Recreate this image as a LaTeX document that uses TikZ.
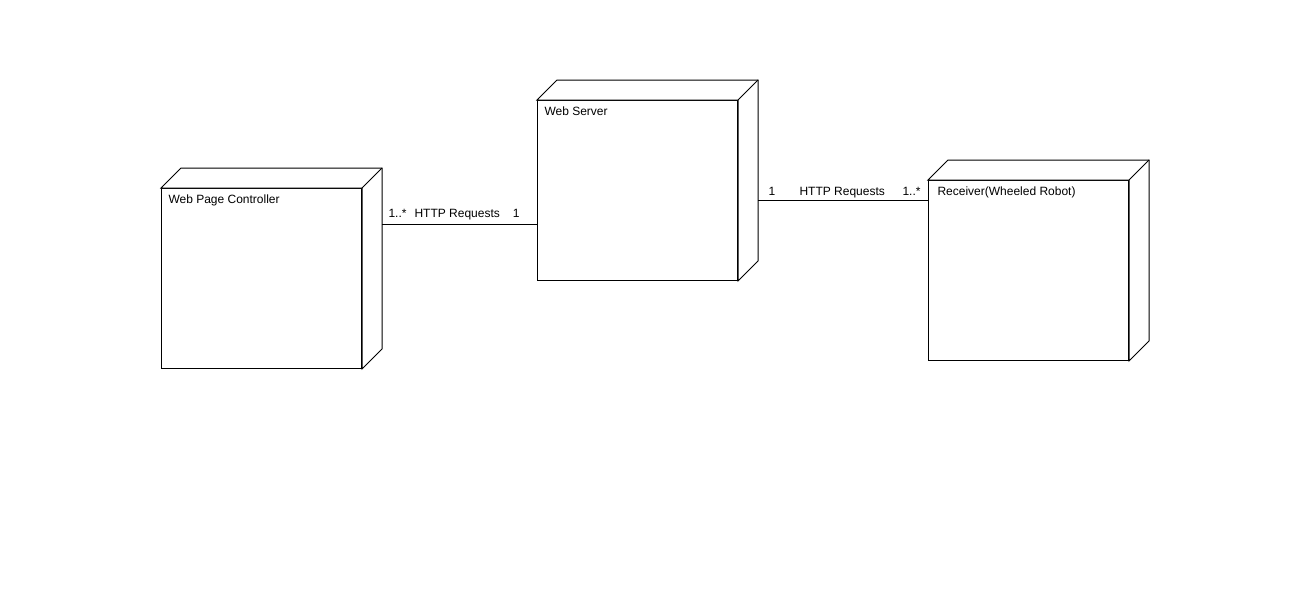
\documentclass[tikz,border=0pt]{standalone}
\usepackage{fontspec}
\setmainfont{Liberation Sans}
\usetikzlibrary{calc}
\tikzset{every picture/.style={line width=0.75pt}}
\newcommand{\devdepth}[1]{%
  \draw [fill=white] (#1.north west) -- ++(20,-20) -- ($(#1.north east)+(20,-20)$) -- ($(#1.south east)+(20,-20)$) -- (#1.south east) -- (#1.north east) -- cycle ;
  \draw (#1.north east) -- ++(20,-20) ;}

\begin{document}
\begin{tikzpicture}[x=0.75pt,y=0.75pt,yscale=-1,xscale=1,
  devface/.style={draw, fill=white, minimum width=150pt, minimum height=135pt, inner sep=0pt, anchor=north west},
  devtitle/.style={anchor=base west, inner sep=0pt, font=\fontsize{9pt}{10pt}\selectfont},
  connlabel/.style={anchor=base west, inner sep=0pt, font=\fontsize{9pt}{10pt}\selectfont}]
\useasboundingbox (0,0) rectangle (1308,608);
\fill [white] (0,0) rectangle (1308,608);

%Device nodes
\node [devface] (wpc) at (161,188) {};
\devdepth{wpc}
\node [devface] (ws) at (537,100) {};
\devdepth{ws}
\node [devface] (rcv) at (928,180) {};
\devdepth{rcv}

% Titles
\node [devtitle] (wpc-t) at ($(wpc.north west)+(7,15)$) {Web Page Controller};
\node [devtitle] (ws-t) at ($(ws.north west)+(7,15)$) {Web Server};
\node [devtitle] (rcv-t) at ($(rcv.north west)+(9,15)$) {Receiver(Wheeled Robot)};

%Connectors
\coordinate (wpc-port) at ($(wpc.north east)+(20,36)$);
\coordinate (ws-in) at (wpc-port -| ws.west);
\draw (wpc-port) -- (ws-in) ;
\coordinate (ws-port) at ($(ws.north east)+(20,100)$);
\coordinate (rcv-in) at (ws-port -| rcv.west);
\draw (ws-port) -- (rcv-in) ;

% Connector labels
\node [connlabel] (m1a) at ($(wpc-port)+(6,-7)$) {1..*};
\node [connlabel] (l1) at ($(wpc-port)+(32,-7)$) {HTTP Requests};
\node [connlabel, anchor=base east] (m1b) at ($(ws-in)+(-17,-7)$) {1};
\node [connlabel] (m2a) at ($(ws-port)+(10,-5)$) {1};
\node [connlabel] (l2) at ($(ws-port)+(41,-5)$) {HTTP Requests};
\node [connlabel, anchor=base east] (m2b) at ($(rcv-in)+(-7,-5)$) {1..*};

\end{tikzpicture}
\end{document}
